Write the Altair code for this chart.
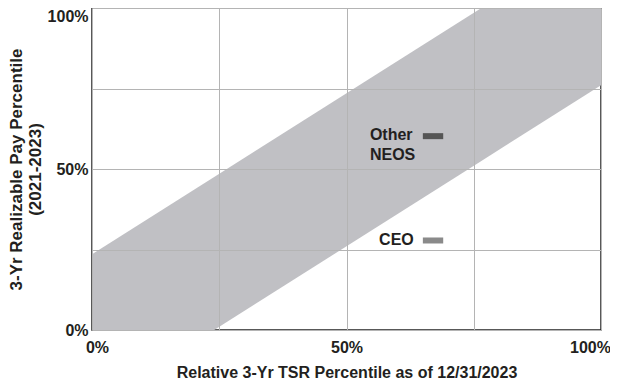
import altair as alt
import pandas as pd

# Band (range of realizable pay vs TSR alignment)
band_x = [0.0, 0.24, 0.765, 1.0]
band_upper = [0.235, 0.475, 1.0, 1.0]
band_lower = [0.0, 0.0, 0.525, 0.76]

# Markers
marker_names = ["Other NEOS", "CEO"]
marker_x = [0.67, 0.67]
marker_y = [0.602, 0.278]
marker_colors = ["#555555", "#8a8a8a"]

# Label texts
label_text = ["Other", "NEOS", "CEO"]
label_x = [0.546, 0.546, 0.564]
label_y = [0.605, 0.543, 0.278]

tick_values = [0, 0.25, 0.5, 0.75, 1.0]

FONT = "Liberation Sans"
TXT = "#231f20"
FS = 16

band_df = pd.DataFrame({"x": band_x, "upper": band_upper, "lower": band_lower})
mk_df = pd.DataFrame({
    "name": marker_names,
    "x1": [v - 0.02 for v in marker_x],
    "x2": [v + 0.02 for v in marker_x],
    "y": marker_y,
    "color": marker_colors,
})
lab_df = pd.DataFrame({"text": label_text, "x": label_x, "y": label_y})

label_expr = "(datum.value == 0.25 || datum.value == 0.75) ? '' : format(datum.value, '.0%')"

x_scale = alt.Scale(domain=[0, 1], nice=False, zero=False)
y_scale = alt.Scale(domain=[0, 1], nice=False, zero=False)

x_axis = alt.Axis(
    values=tick_values, labelExpr=label_expr, ticks=False, domain=False,
    grid=True, gridColor="#b4b4b4", gridWidth=1, zindex=1,
    labelFont=FONT, labelFontSize=FS, labelFontWeight="bold", labelColor=TXT,
    labelPadding=9, labelFlush=False,
    labelOffset={"condition": [{"test": "datum.value == 0", "value": 5},
                               {"test": "datum.value == 1", "value": -11}],
                 "value": 0},
    title="Relative 3-Yr TSR Percentile as of 12/31/2023",
    titleFont=FONT, titleFontSize=FS, titleFontWeight="bold", titleColor=TXT,
    titlePadding=9,
)
y_axis = alt.Axis(
    values=tick_values, labelExpr=label_expr, ticks=False, domain=False,
    grid=True, gridColor="#b4b4b4", gridWidth=1, zindex=1,
    labelFont=FONT, labelFontSize=FS, labelFontWeight="bold", labelColor=TXT,
    labelPadding=4, labelFlush=False,
    labelBaseline={"condition": {"test": "datum.value == 1", "value": "top"},
                   "value": "middle"},
    title=["3-Yr Realizable Pay Percentile", "(2021-2023)"],
    titleFont=FONT, titleFontSize=17, titleFontWeight="bold", titleColor=TXT,
    titlePadding=3, titleLineHeight=19,
)

band = alt.Chart(band_df).mark_area(color="#c0c0c4", opacity=1).encode(
    x=alt.X("x:Q", scale=x_scale, axis=x_axis),
    y=alt.Y("upper:Q", scale=y_scale, axis=y_axis),
    y2="lower:Q",
)

markers = alt.Chart(mk_df).mark_rule(strokeWidth=6, strokeCap="butt").encode(
    x="x1:Q", x2="x2:Q", y="y:Q",
    color=alt.Color("color:N", scale=None),
)

labels = alt.Chart(lab_df).mark_text(
    align="left", baseline="middle", font=FONT, fontSize=FS,
    fontWeight="bold", color=TXT,
).encode(x="x:Q", y="y:Q", text="text:N")

chart = alt.layer(band, markers, labels).properties(
    width=509, height=322,
    autosize=alt.AutoSizeParams(type="none"),
    padding={"left": 84, "top": 0, "right": 9, "bottom": 50},
).configure_view(stroke="#222222", strokeWidth=1.5)

chart.save("out.html", embed_options={"renderer": "svg", "actions": False})
